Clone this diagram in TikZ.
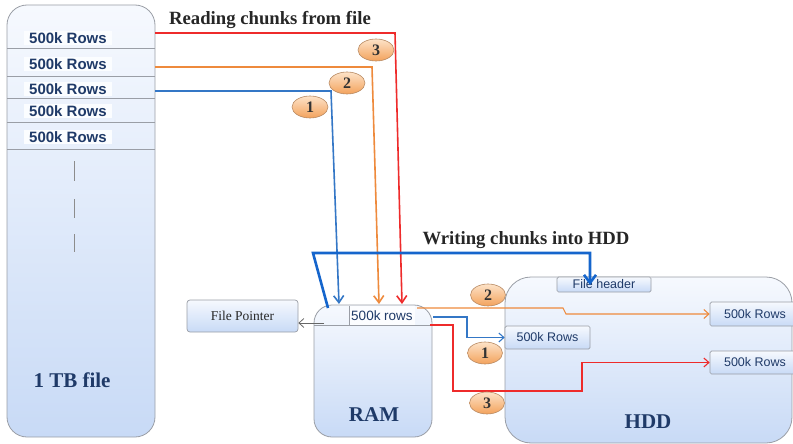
\documentclass[tikz,border=0pt]{standalone}
\usepackage{fontspec}
\setmainfont{Liberation Serif}
\setsansfont{Liberation Sans}
\usetikzlibrary{shapes.geometric,arrows.meta,calc}
\definecolor{boxtop}{HTML}{F6F9FE}
\definecolor{boxbot}{HTML}{C8DAF6}
\definecolor{boxedge}{HTML}{9A9EA6}
\definecolor{navy}{HTML}{1F3A68}
\definecolor{cred}{HTML}{EE2B2B}
\definecolor{corange}{HTML}{EE8A3C}
\definecolor{cblue}{HTML}{3477C6}
\definecolor{tblue}{HTML}{1565CC}
\definecolor{badgetop}{HTML}{FDE3C8}
\definecolor{badgebot}{HTML}{F3A25C}
\definecolor{badgeedge}{HTML}{B88A63}
\begin{document}
\begin{tikzpicture}[x=1pt,y=-1pt,
  bigbox/.style={draw=boxedge, line width=0.8pt, top color=boxtop, bottom color=boxbot, inner sep=0pt},
  smallbox/.style={draw=boxedge, line width=0.7pt, rounded corners=1.5pt, top color=boxtop, bottom color=boxbot, inner sep=0pt, font=\sffamily\fontsize{12.5}{14}\selectfont, text=navy},
  rowlabel/.style={fill=boxtop!40!white, inner sep=1.5pt, minimum width=88pt, font=\sffamily\bfseries\fontsize{15}{17}\selectfont, text=navy},
  bigtext/.style={font=\bfseries\fontsize{21}{24}\selectfont, text=navy},
  titletext/.style={font=\bfseries\fontsize{18.7}{21}\selectfont, text=black!85},
  badge/.style={ellipse, draw=badgeedge, line width=0.6pt, top color=badgetop, bottom color=badgebot, minimum width=36pt, minimum height=22pt, inner sep=0pt, font=\bfseries\fontsize{16}{17}\selectfont, text=black!80},
  readarrow/.style={line width=1.6pt, -{Straight Barb[length=7pt,width=10pt]}},
  thinarrow/.style={line width=1.1pt, -{Straight Barb[length=5pt,width=9pt]}},
  thickarrow/.style={line width=2.6pt, draw=tblue, -{Straight Barb[length=8pt,width=12pt]}},
  dashmark/.style={draw=black!45, line width=0.8pt}
]
\useasboundingbox (0,0) rectangle (793,444);

% ---------- 1 TB file ----------
\node[bigbox, rounded corners=20pt, minimum width=148pt, minimum height=432pt] (file) at (81,221) {};
\foreach \yy in {48,76,98,122,149} \draw[boxedge, line width=0.6pt] (7.4,\yy) -- (154.6,\yy);
\node[rowlabel] (r1) at (68,38) {500k Rows};
\node[rowlabel] (r2) at (68,64) {500k Rows};
\node[rowlabel] (r3) at (68,89) {500k Rows};
\node[rowlabel] (r4) at (68,111) {500k Rows};
\node[rowlabel] (r5) at (68,137) {500k Rows};
\draw[dashmark] (74,161) -- (74,181);
\draw[dashmark] (74,199) -- (74,218);
\draw[dashmark] (74,234) -- (74,252);
\node[bigtext] (filelbl) at (72,380) {1 TB file};

% ---------- titles ----------
\node[titletext] (readlbl) at (270,20) {Reading chunks from file};
\node[titletext] (writelbl) at (526,240) {Writing chunks into HDD};

% ---------- File pointer ----------
\node[smallbox, rounded corners=3pt, minimum width=111pt, minimum height=32pt, font=\fontsize{13.5}{15}\selectfont, text=black!85] (fp) at (242.5,316) {File Pointer};

% ---------- RAM ----------
\node[bigbox, rounded corners=18pt, minimum width=118pt, minimum height=132pt] (ram) at (373,371) {};
\node[fill=white!70!boxtop, inner sep=0pt, minimum width=66pt, minimum height=19pt, font=\sffamily\fontsize{13.5}{15}\selectfont, text=navy] (ramrows) at (382,315.5) {500k rows};
\draw[boxedge, line width=0.7pt] (314,325) -- (432,325);
\draw[boxedge, line width=0.7pt] (349,306) -- (349,325);
\node[bigtext] (ramlbl) at (374,415) {RAM};

% ---------- HDD ----------
\node[bigbox, rounded corners=26pt, minimum width=287pt, minimum height=166pt] (hdd) at (648.5,360) {};
\node[smallbox, minimum width=94pt, minimum height=15pt] (hdr) at (604,284.5) {File header};
\node[smallbox, minimum width=85pt, minimum height=23pt] (h1) at (547.5,337.5) {500k Rows};
\node[smallbox, minimum width=90pt, minimum height=24pt] (h2) at (755,314) {500k Rows};
\node[smallbox, minimum width=90pt, minimum height=23pt] (h3) at (755,362.5) {500k Rows};
\node[bigtext] (hddlbl) at (648,422) {HDD};

% ---------- reading connectors ----------
\coordinate (rd0) at (155,33);  \coordinate (rd1) at (395,33);  \coordinate (rd2) at (402,304);
\coordinate (or0) at (155,67);  \coordinate (or1) at (372,67);  \coordinate (or2) at (379,304);
\coordinate (bl0) at (155,91);  \coordinate (bl1) at (331,91);  \coordinate (bl2) at (339,304);
\draw[readarrow, draw=cred] (rd0) -- (rd1) -- (rd2);
\draw[readarrow, draw=corange] (or0) -- (or1) -- (or2);
\draw[readarrow, draw=cblue] (bl0) -- (bl1) -- (bl2);

\node[badge] (b3) at (376,50) {3};
\node[badge] (b2) at (347,83) {2};
\node[badge] (b1) at (310,107) {1};

% ---------- writing connectors ----------
\coordinate (tb0) at (328,308); \coordinate (tb1) at (313,253); \coordinate (tb2) at (590,253); \coordinate (tb3) at (590,285);
\draw[thickarrow] (tb0) -- (tb1) -- (tb2) -- (tb3);

\coordinate (fpstart) at (324,323);
\draw[thinarrow, draw=black!60, line width=0.8pt] (fpstart) -- (fp.east |- fpstart);

\coordinate (wo0) at (417,308); \coordinate (wo1) at (563,308); \coordinate (wo2) at (566,314);
\draw[thinarrow, draw=corange] (wo0) -- (wo1) -- (wo2) -- (h2.west);
\coordinate (wb0) at (433,317); \coordinate (wb1) at (467,317); \coordinate (wb2) at (467,337.5);
\draw[thinarrow, draw=cblue] (wb0) -- (wb1) -- (wb2) -- (h1.west);
\coordinate (wr0) at (430,325); \coordinate (wr1) at (453,325); \coordinate (wr2) at (453,391); \coordinate (wr3) at (582,391); \coordinate (wr4) at (582,362.5);
\draw[thinarrow, draw=cred] (wr0) -- (wr1) -- (wr2) -- (wr3) -- (wr4) -- (h3.west);

\node[badge, minimum width=35pt] (c2) at (488,295) {2};
\node[badge, minimum width=35pt] (c1) at (485,353) {1};
\node[badge, minimum width=35pt] (c3) at (487,403) {3};
\end{tikzpicture}
\end{document}
